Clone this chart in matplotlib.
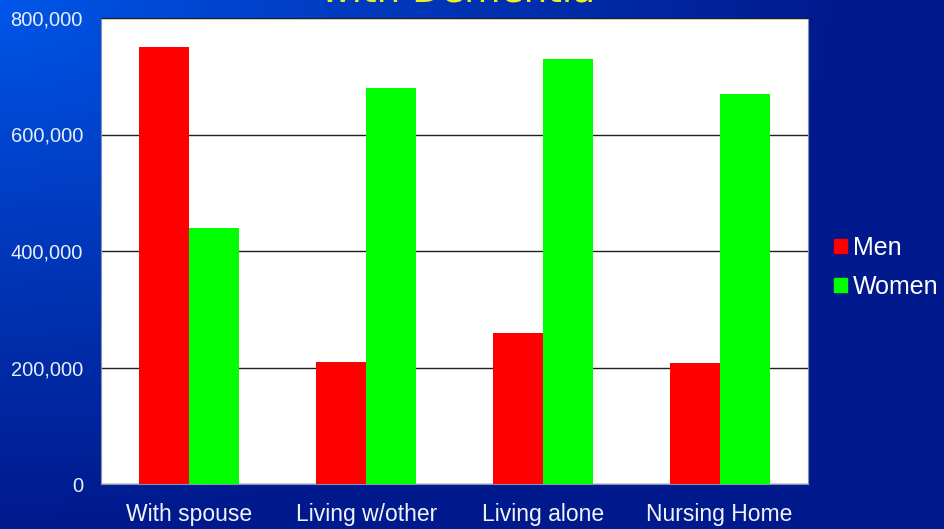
import matplotlib.pyplot as plt
import numpy as np
from matplotlib.patches import Patch

categories = ["With spouse", "Living w/other", "Living alone", "Nursing Home"]
men = [750000, 210000, 260000, 207000]
women = [440000, 680000, 730000, 670000]
yticks = [0, 200000, 400000, 600000, 800000]

fig = plt.figure(figsize=(9.44, 5.29), dpi=100)

# blue gradient background, bright at top-left, navy toward right/bottom
bg = fig.add_axes([0, 0, 1, 1], zorder=-1)
yy, xx = np.mgrid[0:1:200j, 0:1:300j]
t = np.clip(np.sqrt((xx / 0.9) ** 2 + (yy / 1.0) ** 2), 0, 1) ** 0.9
top = np.array([0.0, 0.34, 0.92])
bot = np.array([0.0, 0.10, 0.55])
img = top[None, None, :] * (1 - t[..., None]) + bot[None, None, :] * t[..., None]
bg.imshow(img, aspect="auto", extent=[0, 1, 0, 1], origin="upper")
bg.axis("off")

# title sits mostly above the visible area, as in the source slide
fig.text(0.485, 1.05, "with Dementia", color="#f0f020", fontsize=27,
         ha="center", va="top")

ax = fig.add_axes([101 / 944, 45 / 529, 707 / 944, 466 / 529])
ax.set_facecolor("white")
x = np.arange(len(categories))
w = 0.283
ax.bar(x - w / 2, men, w, color="#ff0000", zorder=3, label="Men")
ax.bar(x + w / 2, women, w, color="#00ff00", zorder=3, label="Women")

ax.set_xlim(-0.5, 3.5)
ax.set_ylim(0, 800000)
ax.set_yticks(yticks)
ax.set_yticklabels([f"{v:,}" for v in yticks], color="#e8eef8", fontsize=14.5,
                   family=["Liberation Sans", "DejaVu Sans"])
ax.set_xticks(x)
ax.set_xticklabels(categories, color="#f0f4fa", fontsize=16.5,
                   family=["Liberation Sans", "DejaVu Sans"])
ax.tick_params(axis="y", length=0, pad=13)
ax.tick_params(axis="x", length=0, pad=14)
ax.yaxis.grid(True, color="#202020", linewidth=1)
ax.spines["top"].set_color("#202020")
for s in ["left", "bottom", "right"]:
    ax.spines[s].set_color("#8890b0")

handles = [Patch(color="#ff0000", label="Men"), Patch(color="#00ff00", label="Women")]
leg = fig.legend(handles=handles, loc="center left", bbox_to_anchor=(0.86, 0.495),
                 frameon=False, handlelength=0.5, handleheight=0.5,
                 handletextpad=0.25, labelspacing=0.6,
                 prop={"family": ["Liberation Sans", "DejaVu Sans"], "size": 18})
for txt in leg.get_texts():
    txt.set_color("white")

fig.savefig("out.png", dpi=100)
